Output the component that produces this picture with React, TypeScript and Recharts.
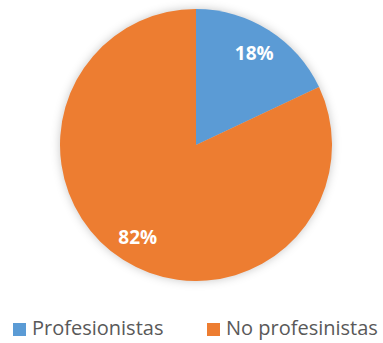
import React from "react";
import { PieChart, Pie, Cell, Legend } from "recharts";

const categories = ["Profesionistas", "No profesinistas"];
const values = [18, 82];
const colors = ["#5B9BD5", "#ED7D31"];

const data = categories.map((name, i) => ({ name, value: values[i] }));

const RAD = Math.PI / 180;

const renderLabel = (props: any) => {
  const { cx, cy, midAngle, outerRadius, percent } = props;
  const r = outerRadius * 0.8;
  const x = cx + r * Math.cos(-midAngle * RAD);
  const y = cy + r * Math.sin(-midAngle * RAD);
  return (
    <text
      x={x}
      y={y}
      fill="#ffffff"
      textAnchor="middle"
      dominantBaseline="central"
      fontFamily="'Open Sans', sans-serif"
      fontWeight="bold"
      fontSize={19}
    >
      {`${Math.round(percent * 100)}%`}
    </text>
  );
};

const legendX = [13, 207];

const renderLegend = (props: any) => {
  // keep the legend in data order, not sorted by name
  const payload = [...(props.payload || [])].sort(
    (a: any, b: any) => categories.indexOf(a.value) - categories.indexOf(b.value)
  );
  return (
    <div style={{ position: "relative", height: 25, width: 383 }}>
      {payload.map((entry: any, i: number) => (
        <div
          key={entry.value}
          style={{
            position: "absolute",
            left: legendX[i],
            top: 0,
            display: "flex",
            alignItems: "center",
            fontFamily: "'Open Sans', sans-serif",
            fontSize: 20,
            lineHeight: "24px",
            color: "#595959",
            whiteSpace: "nowrap",
          }}
        >
          <span
            style={{
              display: "inline-block",
              width: 13,
              height: 13,
              background: entry.color,
              marginRight: 6,
              marginTop: 3,
            }}
          />
          {entry.value}
        </div>
      ))}
    </div>
  );
};

export default function App() {
  return (
    <div style={{ width: 383, height: 343, background: "#ffffff", overflow: "hidden" }}>
      <style>{`body{margin:0} .recharts-pie{filter:drop-shadow(0 0 5px rgba(0,0,0,0.22));}`}</style>
      <PieChart width={383} height={343} margin={{ top: 0, right: 0, bottom: 0, left: 0 }}>
        <Pie
          data={data}
          dataKey="value"
          nameKey="name"
          cx={196}
          cy={145}
          outerRadius={136}
          startAngle={90}
          endAngle={-270}
          stroke="none"
          label={renderLabel}
          labelLine={false}
          isAnimationActive={false}
        >
          {data.map((d, i) => (
            <Cell key={d.name} fill={colors[i]} />
          ))}
        </Pie>
        <Legend
          content={renderLegend}
          wrapperStyle={{ position: "absolute", left: 0, top: 316, width: 383 }}
        />
      </PieChart>
    </div>
  );
}
